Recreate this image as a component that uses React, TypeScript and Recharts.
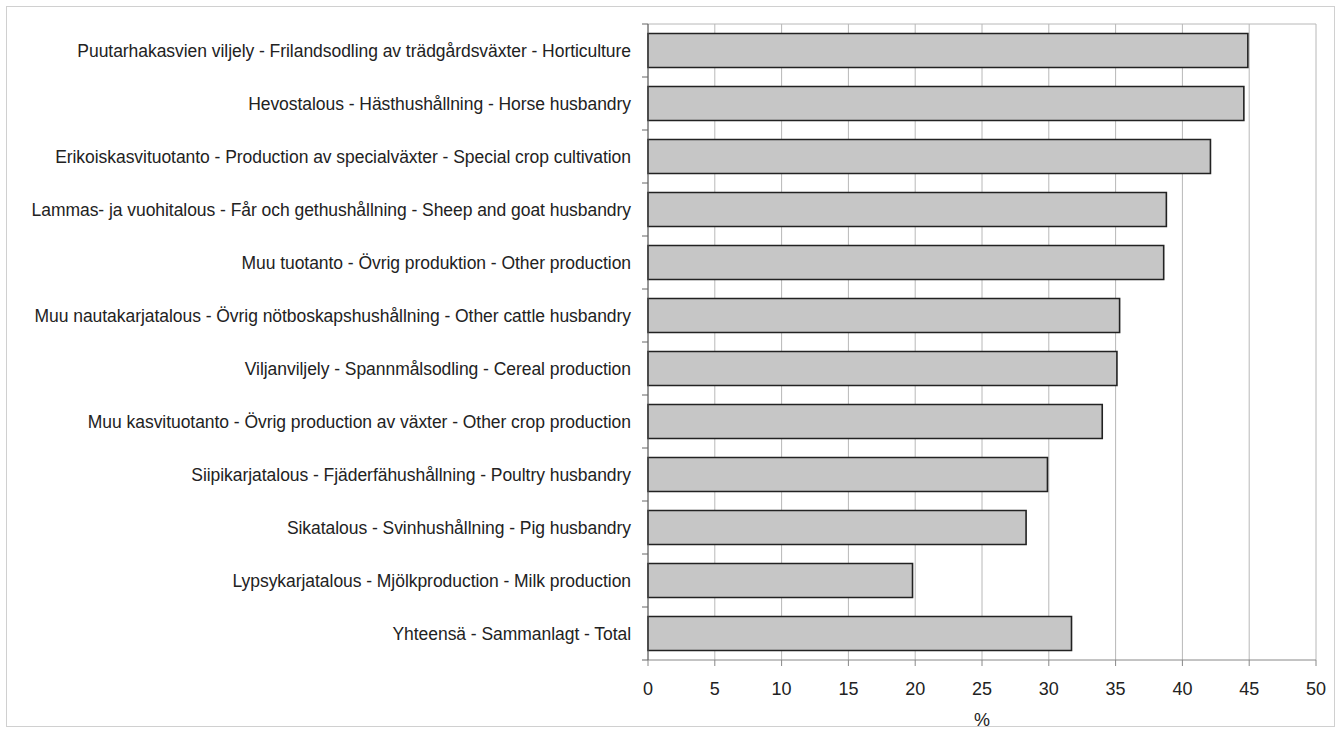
import React from 'react';
import { BarChart, Bar, XAxis, YAxis, CartesianGrid } from 'recharts';

const categories = [
  'Puutarhakasvien viljely - Frilandsodling av trädgårdsväxter - Horticulture',
  'Hevostalous - Hästhushållning - Horse husbandry',
  'Erikoiskasvituotanto - Production av specialväxter - Special crop cultivation',
  'Lammas- ja vuohitalous - Får och gethushållning - Sheep and goat husbandry',
  'Muu tuotanto - Övrig produktion - Other production',
  'Muu nautakarjatalous - Övrig nötboskapshushållning - Other cattle husbandry',
  'Viljanviljely - Spannmålsodling - Cereal production',
  'Muu kasvituotanto - Övrig production av växter - Other crop production',
  'Siipikarjatalous - Fjäderfähushållning - Poultry husbandry',
  'Sikatalous - Svinhushållning - Pig husbandry',
  'Lypsykarjatalous - Mjölkproduction - Milk production',
  'Yhteensä - Sammanlagt - Total',
];

const values = [44.9, 44.6, 42.1, 38.8, 38.6, 35.3, 35.1, 34.0, 29.9, 28.3, 19.8, 31.7];

const xTicks = [0, 5, 10, 15, 20, 25, 30, 35, 40, 45, 50];

const data = categories.map((name, i) => ({ name, value: values[i] }));

const FONT = '"Liberation Sans", Arial, sans-serif';

const YTick = (props: any) => {
  const { x, y, payload, index, visibleTicksCount } = props;
  const off = payload.offset || 0;
  const axisX = x + 8;
  return (
    <g>
      <line x1={axisX - 6} x2={axisX} y1={y - off} y2={y - off} stroke="#666" strokeWidth={1} />
      {index === visibleTicksCount - 1 && (
        <line x1={axisX - 6} x2={axisX} y1={y + off} y2={y + off} stroke="#666" strokeWidth={1} />
      )}
      <text
        x={x - 9}
        y={y}
        dy={6}
        textAnchor="end"
        fontFamily={FONT}
        fontSize={17.5}
        letterSpacing={-0.05}
        fill="#222"
      >
        {payload.value}
      </text>
    </g>
  );
};

const XTick = (props: any) => {
  const { x, y, payload } = props;
  return (
    <text x={x} y={y} dy={27} textAnchor="middle" fontFamily={FONT} fontSize={18} fill="#222">
      {payload.value}
    </text>
  );
};

export default function App() {
  return (
    <div style={{ position: 'absolute', left: 0, top: 0, width: 1342, height: 731, background: '#fff' }}>
      <div
        style={{
          position: 'absolute',
          left: 6,
          top: 6,
          width: 1329,
          height: 721,
          border: '1px solid #d0d0d0',
          boxSizing: 'border-box',
        }}
      />
      <BarChart
        width={1342}
        height={731}
        data={data}
        layout="vertical"
        margin={{ top: 24, right: 26, bottom: 0, left: 0 }}
        barCategoryGap="18%"
      >
        <CartesianGrid
          horizontal={true}
          vertical={true}
          stroke="#b8b8b8"
          strokeWidth={1}
          horizontalCoordinatesGenerator={({ offset }: any) => [offset.top]}
        />
        <XAxis
          type="number"
          domain={[0, 50]}
          ticks={xTicks}
          interval={0}
          axisLine={{ stroke: '#888' }}
          tickLine={{ stroke: '#888' }}
          tickSize={6}
          tick={<XTick />}
          height={71}
          label={{ value: '%', position: 'insideBottom', offset: 5, fontFamily: FONT, fontSize: 18, fill: '#222' }}
        />
        <YAxis
          type="category"
          dataKey="name"
          width={648}
          interval={0}
          axisLine={{ stroke: '#555' }}
          tickLine={false}
          tick={<YTick />}
        />
        <Bar
          dataKey="value"
          fill="#c6c6c6"
          stroke="#222"
          strokeWidth={1.6}
          isAnimationActive={false}
        />
      </BarChart>
    </div>
  );
}
